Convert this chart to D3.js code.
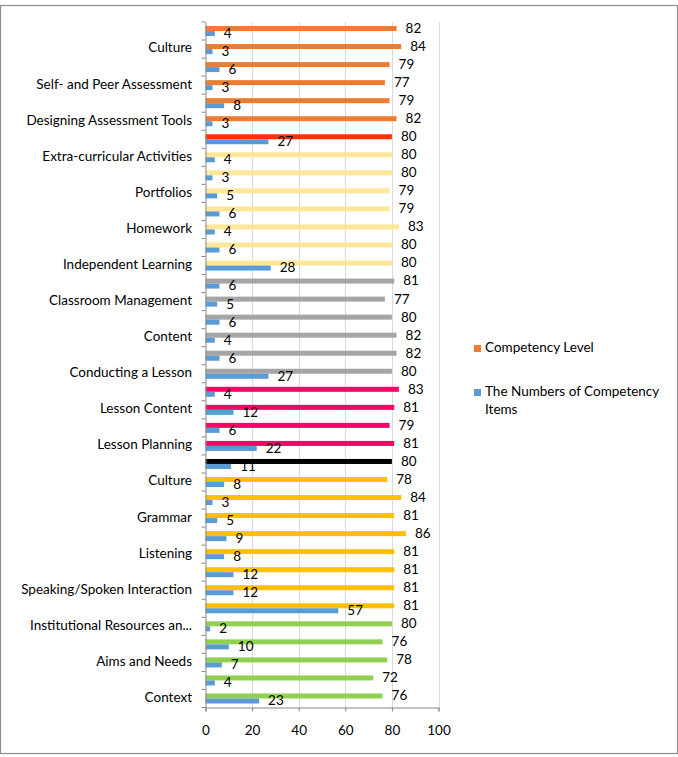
<!DOCTYPE html>
<html>
<head>
<meta charset="utf-8">
<script src="https://cdn.jsdelivr.net/npm/d3@7"></script>
<style>
  body { margin: 0; background: #fff; }
  text { font-family: Lato, "Open Sans", sans-serif; fill: #000; }
</style>
</head>
<body>
<div id="container"></div>
<script>
// categories listed bottom to top (Excel order)
const categories = [
    "Context", "Curriculum", "Aims and Needs", "The Role of the Language Teacher",
    "Institutional Resources and Constraints",
    "Methodology", "Speaking/Spoken Interaction", "Writing/Written Interaction", "Listening",
    "Reading", "Grammar", "Vocabulary", "Culture",
    "Resources",
    "Lesson Planning", "Identification of Learning Objectives", "Lesson Content", "Lesson Organisation",
    "Conducting a Lesson", "Using Lesson Plans", "Content", "Interaction with Learners",
    "Classroom Management", "Classroom Language",
    "Independent Learning", "Learner Autonomy", "Homework", "Projects", "Portfolios",
    "Virtual Learning Environments", "Extra-curricular Activities",
    "Assessment of Learning", "Designing Assessment Tools", "Evaluation", "Self- and Peer Assessment",
    "Language Performance", "Culture ", "Error Analysis"
]
const sections = [
    "Context", "Context", "Context", "Context", "Context",
    "Methodology", "Methodology", "Methodology", "Methodology", "Methodology", "Methodology", "Methodology", "Methodology",
    "Resources",
    "Lesson Planning", "Lesson Planning", "Lesson Planning", "Lesson Planning",
    "Conducting a Lesson", "Conducting a Lesson", "Conducting a Lesson", "Conducting a Lesson", "Conducting a Lesson", "Conducting a Lesson",
    "Independent Learning", "Independent Learning", "Independent Learning", "Independent Learning", "Independent Learning", "Independent Learning", "Independent Learning",
    "Assessment total", "Assessment", "Assessment", "Assessment", "Assessment", "Assessment", "Assessment"
]
const competencyLevel = [76, 72, 78, 76, 80, 81, 81, 81, 81, 86, 81, 84, 78, 80, 81, 79, 81, 83,
                         80, 82, 82, 80, 77, 81, 80, 80, 83, 79, 79, 80, 80, 80, 82, 79, 77, 79, 84, 82]
const competencyItems = [23, 4, 7, 10, 2, 57, 12, 12, 8, 9, 5, 3, 8, 11, 22, 6, 12, 4,
                         27, 6, 4, 6, 5, 6, 28, 6, 4, 6, 5, 3, 4, 27, 3, 8, 3, 6, 3, 4]
const seriesNames = ["Competency Level", "The Numbers of Competency Items"]
const xTicks = [0, 20, 40, 60, 80, 100]

const sectionColors = {
    "Context": "#92d050",
    "Methodology": "#ffc000",
    "Resources": "#000000",
    "Lesson Planning": "#ff0066",
    "Conducting a Lesson": "#a5a5a5",
    "Independent Learning": "#ffe699",
    "Assessment total": "#ff3300",
    "Assessment": "#ed7d31"
}
const legendColors = ["#ed7d31", "#5b9bd5"]
const itemsColor = "#5b9bd5"
const fontSize = "13.5px"

const container = d3.select("#container")
const width = 678, height = 757
const margin = {top: 22, right: 239, bottom: 50, left: 205.5}

const svg = container.append("svg")
                     .attr("width", width)
                     .attr("height", height)

// outer chart border
svg.append("rect")
   .attr("x", 0.5).attr("y", 5.5)
   .attr("width", width - 1).attr("height", 748)
   .attr("fill", "none")
   .attr("stroke", "#8c8c8c")
   .attr("stroke-width", 1.2)

const data = categories.map((c, i) => ({
    key: i, name: c, section: sections[i],
    values: [competencyLevel[i], competencyItems[i]]
}))

const xScale = d3.scaleLinear()
                 .domain([0, 100])
                 .range([margin.left, 438.5])
const yScale = d3.scaleBand()
                 .domain(data.map(d => d.key))
                 .range([707.5, margin.top])
const inner = d3.scaleBand()
                .domain([0, 1])
                .range([0, yScale.step()])
                .paddingOuter(0.8)
                .paddingInner(0)

// vertical grid lines
svg.selectAll(".grid-line")
   .data(xTicks.slice(1))
   .join("line")
   .attr("class", "grid-line")
   .attr("x1", d => Math.round(xScale(d)) + 0.5)
   .attr("x2", d => Math.round(xScale(d)) + 0.5)
   .attr("y1", margin.top)
   .attr("y2", 707.5)
   .attr("stroke", "#d9d9d9")

// bars
const groups = svg.selectAll(".cat")
                  .data(data)
                  .join("g")
                  .attr("class", "cat")
                  .attr("transform", d => `translate(0, ${yScale(d.key)})`)

groups.selectAll("rect")
      .data(d => d.values.map((v, j) => ({v, j, section: d.section})))
      .join("rect")
      .attr("x", xScale(0))
      .attr("y", d => inner(d.j))
      .attr("width", d => xScale(d.v) - xScale(0))
      .attr("height", inner.bandwidth())
      .attr("fill", d => d.j === 0 ? sectionColors[d.section] : itemsColor)

groups.selectAll("text")
      .data(d => d.values.map((v, j) => ({v, j})))
      .join("text")
      .attr("x", d => xScale(d.v) + 9)
      .attr("y", d => inner(d.j) + inner.bandwidth() / 2 + 1)
      .attr("dominant-baseline", "middle")
      .attr("font-size", fontSize)
      .text(d => d.v)

// axes
const yAxis = d3.axisLeft(yScale)
                .tickValues([])
                .tickSize(0)
const axisG = svg.append("g")
   .attr("transform", `translate(${margin.left}, 0)`)
   .call(yAxis)
axisG.select(".domain").attr("stroke", "#868686")

// category boundary tick marks
svg.selectAll(".ytick")
   .data(d3.range(categories.length + 1))
   .join("line")
   .attr("class", "ytick")
   .attr("x1", margin.left - 4)
   .attr("x2", margin.left)
   .attr("y1", i => 707.5 - i * yScale.step())
   .attr("y2", i => 707.5 - i * yScale.step())
   .attr("stroke", "#868686")

// category labels (every other one, as the original shows)
const shortName = s => s.length > 27 ? s.slice(0, 26) + "..." : s
svg.selectAll(".cat-label")
   .data(data.filter((d, i) => i % 2 === 0))
   .join("text")
   .attr("class", "cat-label")
   .attr("x", 192)
   .attr("y", d => yScale(d.key) + yScale.bandwidth() / 2)
   .attr("text-anchor", "end")
   .attr("dominant-baseline", "middle")
   .attr("font-size", fontSize)
   .text(d => shortName(d.name.trim()))

const xAxis = d3.axisBottom(xScale)
                .tickValues(xTicks)
                .tickSize(4)
                .tickPadding(14)
const xg = svg.append("g")
   .attr("transform", "translate(0, 707.5)")
   .call(xAxis)
xg.select(".domain").attr("stroke", "#868686")
xg.selectAll(".tick line").attr("stroke", "#868686")
xg.selectAll(".tick text")
  .attr("font-size", fontSize)
  .attr("font-family", "Lato, sans-serif")
  .attr("fill", "#000")

// legend
const legend = svg.append("g").attr("transform", "translate(474, 0)")
const legendY = [349, 393]
seriesNames.forEach((name, i) => {
    legend.append("rect")
          .attr("x", 0).attr("y", legendY[i] - 4)
          .attr("width", 7).attr("height", 7)
          .attr("fill", legendColors[i])
    const lines = i === 0 ? [name] : ["The Numbers of Competency", "Items"]
    lines.forEach((l, k) => {
        legend.append("text")
              .attr("x", 11)
              .attr("y", legendY[i] + k * 18)
              .attr("dominant-baseline", "middle")
              .attr("font-size", fontSize)
              .text(l)
    })
})
</script>
</body>
</html>
